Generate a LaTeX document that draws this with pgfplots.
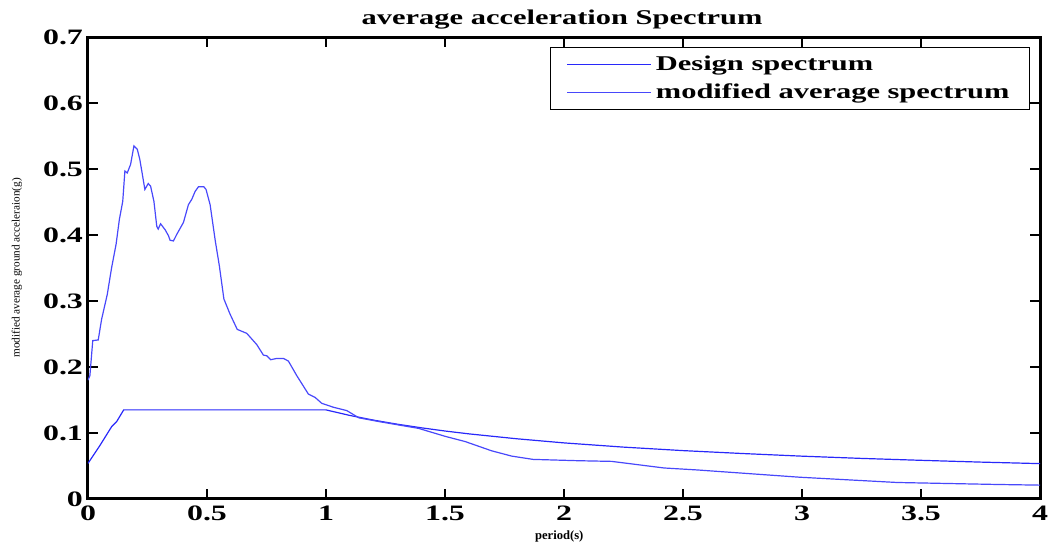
\documentclass[border=0pt]{standalone}
\usepackage{fontspec}
\setmainfont{Liberation Serif}
\newfontfamily\widefont{Liberation Serif}[FakeStretch=1.45]
\usepackage{pgfplots}
\pgfplotsset{compat=1.18}

\definecolor{lineblue}{RGB}{40,40,250}

% design spectrum
\pgfplotstableread{
T Sa
0 0.054
0.05 0.081
0.10 0.110
0.12 0.117
0.15 0.135
1.00 0.135
1.10 0.1266
1.20 0.1195
1.30 0.1133
1.40 0.1079
1.50 0.1030
1.60 0.0987
1.80 0.0913
2.00 0.0850
2.25 0.0786
2.50 0.0733
2.75 0.0689
3.00 0.0649
3.25 0.0615
3.50 0.0586
3.75 0.0559
4.00 0.0536
}\design

% modified average spectrum
\pgfplotstableread{
T Sa
0 0.180
0.008 0.187
0.020 0.240
0.043 0.241
0.057 0.272
0.081 0.310
0.099 0.350
0.118 0.386
0.132 0.424
0.146 0.451
0.155 0.497
0.165 0.494
0.179 0.507
0.193 0.535
0.207 0.530
0.218 0.514
0.239 0.469
0.253 0.478
0.263 0.474
0.277 0.451
0.289 0.413
0.295 0.409
0.305 0.417
0.324 0.408
0.338 0.399
0.345 0.392
0.359 0.391
0.373 0.401
0.401 0.419
0.422 0.446
0.436 0.454
0.450 0.466
0.464 0.473
0.487 0.473
0.496 0.469
0.513 0.446
0.534 0.393
0.552 0.353
0.571 0.303
0.597 0.280
0.627 0.257
0.667 0.251
0.709 0.234
0.737 0.218
0.751 0.217
0.768 0.211
0.793 0.213
0.821 0.213
0.842 0.209
0.877 0.187
0.926 0.159
0.954 0.154
0.982 0.145
1.031 0.139
1.087 0.134
1.138 0.123
1.227 0.117
1.389 0.107
1.500 0.095
1.585 0.087
1.696 0.073
1.780 0.065
1.870 0.060
2.060 0.058
2.200 0.057
2.420 0.047
2.560 0.044
2.990 0.033
3.400 0.025
3.820 0.022
4.000 0.021
}\modavg

\begin{document}
\begin{tikzpicture}
\path[use as bounding box] (-44pt,-22.5pt) rectangle (480pt,249.5pt);
\begin{axis}[
    scale only axis,
    width=476pt, height=231pt,
    xmin=0, xmax=4,
    ymin=0, ymax=0.7,
    xtick={0,0.5,...,4},
    ytick={0,0.1,...,0.7},
    axis line style={line width=1.5pt},
    tick style={black, line width=1pt},
    major tick length=5pt,
    tick align=inside,
    /pgf/number format/assume math mode=true,
    ticklabel style={font=\widefont\bfseries\fontsize{11}{11}\selectfont},
    yticklabel style={xshift=1pt},
    every axis title shift=0pt,
    title={average acceleration Spectrum},
    title style={font=\widefont\bfseries\fontsize{10.5}{11}\selectfont,
                 at={(axis description cs:0.498,1.028)}, anchor=base},
    xlabel={period(s)},
    xlabel style={font=\bfseries\fontsize{6.3}{6.3}\selectfont,
                  at={(axis description cs:0.495,-0.082)}, anchor=center},
    ylabel={modified average ground acceleraion(g)},
    ylabel style={font=\fontsize{5.6}{6}\selectfont,
                  at={(axis description cs:-0.0746,0.5)}, anchor=center},
    legend style={at={(rel axis cs:0.9895,0.978)}, anchor=north east,
                  draw=black, line width=0.6pt, fill=white,
                  font=\widefont\bfseries\fontsize{10.5}{11}\selectfont,
                  row sep=1pt, inner xsep=8pt, inner ysep=2pt,
                  cells={anchor=west}},
    legend image code/.code={\draw[#1, line width=0.6pt] (0pt,0pt) -- (42pt,0pt);},
]
\addplot[lineblue, line width=0.6pt] table[x=T, y=Sa] {\design};
\addlegendentry{Design spectrum}
\addplot[lineblue!85, line width=0.6pt] table[x=T, y=Sa] {\modavg};
\addlegendentry{modified average spectrum}
\end{axis}
\end{tikzpicture}
\end{document}
